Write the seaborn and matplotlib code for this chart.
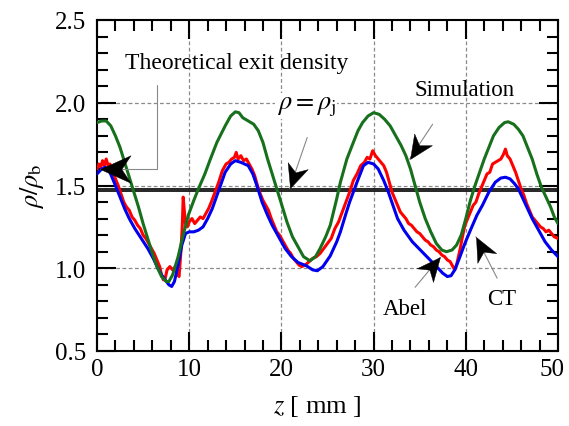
import numpy as np
import pandas as pd
import matplotlib
matplotlib.use("Agg")
import matplotlib.pyplot as plt
from matplotlib.ticker import MultipleLocator
from matplotlib.path import Path
from matplotlib.markers import MarkerStyle
from matplotlib.transforms import Affine2D, ScaledTranslation
import seaborn as sns

# ---------------- data ----------------
sim_z = [0.0, 0.5, 1.0, 1.5, 2.0, 2.5, 3.0, 3.5, 4.0, 4.5, 5.0, 5.5, 6.0, 6.5, 7.0, 7.5,
         7.8, 8.2, 8.8, 9.3, 9.9, 10.5, 11.0, 11.7, 12.3, 13.0, 13.9, 14.5, 15.0, 15.4,
         15.8, 16.4, 17.0, 17.5, 18.0, 18.5, 19.0, 19.5, 20.0, 20.6, 21.2, 21.8, 22.4,
         23.1, 23.7, 24.2, 24.8, 25.3, 26.0, 26.4, 27.1, 27.8, 28.3, 28.8, 29.4, 30.0,
         30.6, 31.2, 31.8, 32.4, 33.0, 33.5, 34.0, 34.5, 35.0, 35.6, 36.2, 36.8, 37.4,
         37.9, 38.5, 39.0, 39.5, 40.0, 40.5, 41.0, 41.5, 42.0, 42.5, 43.0, 43.6, 44.2,
         44.6, 45.2, 45.7, 46.2, 46.7, 47.2, 47.7, 48.2, 48.7, 49.2, 49.6, 50.0]
sim_rho = [1.88, 1.89, 1.89, 1.86, 1.80, 1.73, 1.64, 1.55, 1.46, 1.37, 1.27, 1.18, 1.09,
           1.01, 0.95, 0.92, 0.92, 0.96, 1.07, 1.19, 1.32, 1.41, 1.48, 1.57, 1.66, 1.76,
           1.86, 1.92, 1.945, 1.94, 1.91, 1.89, 1.87, 1.83, 1.76, 1.66, 1.57, 1.48, 1.39,
           1.28, 1.19, 1.13, 1.07, 1.045, 1.07, 1.12, 1.19, 1.26, 1.42, 1.52, 1.66, 1.76,
           1.83, 1.88, 1.92, 1.94, 1.93, 1.90, 1.86, 1.80, 1.74, 1.68, 1.60, 1.50, 1.40,
           1.30, 1.22, 1.15, 1.11, 1.10, 1.11, 1.14, 1.20, 1.30, 1.41, 1.50, 1.58, 1.66,
           1.73, 1.80, 1.85, 1.88, 1.885, 1.87, 1.84, 1.80, 1.73, 1.66, 1.57, 1.49, 1.43,
           1.37, 1.31, 1.27]

ct_z = [0.0, 0.5, 0.9, 1.4, 2.0, 2.5, 3.0, 3.5, 4.1, 4.8, 5.5, 6.1, 6.6, 7.0, 7.4, 7.8,
        8.1, 8.4, 8.8, 9.2, 9.6, 10.0, 10.5, 11.0, 11.5, 12.0, 12.5, 13.2, 13.9, 14.5,
        15.0, 15.6, 16.4, 16.9, 17.4, 17.9, 18.5, 19.0, 19.7, 20.4, 21.1, 21.8, 22.7,
        23.4, 23.9, 24.5, 25.3, 26.0, 26.4, 27.0, 27.4, 28.2, 28.9, 29.4, 30.0, 30.5,
        31.1, 31.6, 32.1, 32.6, 33.3, 34.2, 34.9, 35.6, 36.3, 37.0, 37.5, 38.0, 38.4,
        38.8, 39.3, 39.9, 40.5, 41.2, 41.8, 42.5, 43.2, 43.8, 44.3, 44.8, 45.3, 45.7,
        46.2, 46.7, 47.2, 47.9, 48.6, 49.3, 50.0]
ct_rho = [1.57, 1.60, 1.61, 1.58, 1.50, 1.43, 1.36, 1.30, 1.24, 1.18, 1.12, 1.06, 1.00,
          0.96, 0.93, 0.90, 0.89, 0.92, 1.02, 1.14, 1.21, 1.22, 1.22, 1.23, 1.25, 1.30,
          1.36, 1.47, 1.58, 1.63, 1.65, 1.64, 1.62, 1.57, 1.49, 1.40, 1.32, 1.26, 1.19,
          1.12, 1.07, 1.035, 1.015, 0.99, 0.985, 1.01, 1.075, 1.16, 1.22, 1.33, 1.40,
          1.52, 1.62, 1.64, 1.63, 1.60, 1.53, 1.46, 1.38, 1.30, 1.23, 1.16, 1.12, 1.08,
          1.04, 1.00, 0.97, 0.95, 0.955, 0.99, 1.06, 1.15, 1.23, 1.32, 1.38, 1.46, 1.52,
          1.545, 1.55, 1.54, 1.51, 1.48, 1.42, 1.36, 1.30, 1.23, 1.16, 1.11, 1.07]

abel_z = [0.0, 0.2, 0.4, 0.6, 0.8, 1.0, 1.2, 1.4, 1.7, 2.0, 2.3, 2.6, 2.9, 3.2, 3.5,
          3.8, 4.1, 4.4, 4.7, 5.0, 5.3, 5.6, 5.9, 6.2, 6.5, 6.8, 7.0, 7.2, 7.4, 7.6,
          7.9, 8.2, 8.5, 8.7, 8.9, 9.1, 9.25, 9.35, 9.45, 9.6, 9.8, 10.0, 10.3, 10.6,
          10.9, 11.2, 11.5, 11.8, 12.1, 12.4, 12.8, 13.2, 13.6, 14.0, 14.3, 14.6, 14.9,
          15.1, 15.3, 15.6, 15.9, 16.2, 16.5, 16.8, 17.1, 17.4, 17.7, 18.0, 18.3, 18.6,
          18.9, 19.2, 19.5, 19.8, 20.1, 20.4, 20.7, 21.0, 21.3, 21.6, 21.9, 22.2, 22.6,
          23.0, 23.4, 23.8, 24.2, 24.6, 25.0, 25.4, 25.8, 26.2, 26.6, 27.0, 27.4, 27.8,
          28.2, 28.6, 29.0, 29.3, 29.6, 29.9, 30.2, 30.5, 30.8, 31.1, 31.4, 31.7, 32.0,
          32.3, 32.6, 32.9, 33.2, 33.5, 33.8, 34.1, 34.4, 34.7, 35.0, 35.3, 35.6, 35.9,
          36.2, 36.5, 36.8, 37.1, 37.4, 37.7, 38.0, 38.3, 38.6, 38.8, 39.0, 39.2, 39.4,
          39.6, 39.9, 40.2, 40.5, 40.8, 41.1, 41.4, 41.7, 42.0, 42.3, 42.6, 42.9, 43.2,
          43.5, 43.8, 44.1, 44.3, 44.5, 44.8, 45.1, 45.4, 45.7, 46.0, 46.3, 46.6, 46.9,
          47.2, 47.5, 47.8, 48.1, 48.4, 48.7, 49.0, 49.3, 49.6, 50.0]
abel_rho = [1.60, 1.63, 1.61, 1.65, 1.62, 1.66, 1.62, 1.63, 1.58, 1.54, 1.50, 1.45, 1.40,
            1.37, 1.35, 1.31, 1.29, 1.26, 1.24, 1.20, 1.18, 1.15, 1.12, 1.09, 1.05, 1.01,
            0.96, 0.93, 0.94, 0.99, 1.01, 0.99, 1.01, 0.97, 0.95, 1.10, 1.26, 1.43, 1.36,
            1.27, 1.25, 1.28, 1.30, 1.27, 1.29, 1.31, 1.30, 1.33, 1.36, 1.40, 1.46, 1.52,
            1.59, 1.63, 1.64, 1.66, 1.67, 1.70, 1.66, 1.68, 1.65, 1.66, 1.63, 1.60, 1.56,
            1.50, 1.45, 1.41, 1.38, 1.35, 1.30, 1.26, 1.22, 1.20, 1.17, 1.14, 1.11, 1.09,
            1.06, 1.04, 1.02, 1.01, 1.02, 1.04, 1.06, 1.07, 1.09, 1.12, 1.15, 1.18, 1.24,
            1.28, 1.34, 1.40, 1.46, 1.53, 1.57, 1.62, 1.64, 1.67, 1.66, 1.71, 1.68, 1.66,
            1.64, 1.62, 1.58, 1.52, 1.46, 1.42, 1.38, 1.34, 1.32, 1.30, 1.27, 1.26, 1.24,
            1.22, 1.21, 1.19, 1.17, 1.16, 1.14, 1.13, 1.11, 1.10, 1.08, 1.07, 1.05, 1.04,
            1.01, 0.99, 1.02, 1.07, 1.12, 1.18, 1.26, 1.30, 1.34, 1.38, 1.40, 1.45, 1.49,
            1.53, 1.57, 1.58, 1.63, 1.64, 1.65, 1.66, 1.69, 1.72, 1.68, 1.66, 1.62, 1.58,
            1.53, 1.48, 1.44, 1.39, 1.35, 1.31, 1.29, 1.27, 1.25, 1.24, 1.22, 1.23, 1.21,
            1.19, 1.18]

series_names = ["Abel", "CT", "Simulation"]
exit_density = 1.479
rho_j = 1.465

x_ticks = [0, 10, 20, 30, 40, 50]
y_ticks = [0.5, 1.0, 1.5, 2.0, 2.5]

# ---------------- style ----------------
sns.set_style("ticks")
plt.rcParams["font.family"] = ["Liberation Serif", "DejaVu Serif"]
plt.rcParams["mathtext.fontset"] = "stix"
plt.rcParams["text.color"] = "black"
plt.rcParams["axes.labelcolor"] = "black"
plt.rcParams["xtick.color"] = "black"
plt.rcParams["ytick.color"] = "black"

fig = plt.figure(figsize=(5.69, 4.27), dpi=100)
ax = fig.add_axes([97 / 569, 1 - 352 / 427, 461 / 569, 331 / 427])

df = pd.concat([
    pd.DataFrame({"z": abel_z, "rho": abel_rho, "src": series_names[0]}),
    pd.DataFrame({"z": ct_z, "rho": ct_rho, "src": series_names[1]}),
    pd.DataFrame({"z": sim_z, "rho": sim_rho, "src": series_names[2]}),
])
palette = {"Abel": "#ff0000", "CT": "#0000ee", "Simulation": "#17701c"}

# grid
for gx in [10, 20, 30, 40]:
    ax.axvline(gx, color="#8a8a8a", lw=0.9, ls=(0, (3, 2)), zorder=0.5)
for gy in [1.0, 1.5, 2.0]:
    ax.axhline(gy, color="#8a8a8a", lw=0.9, ls=(0, (3, 2)), zorder=0.5)

ax.axhline(exit_density, color="black", lw=1.2, zorder=1)
ax.axhline(rho_j, color="black", lw=1.2, zorder=1)

sns.lineplot(data=df, x="z", y="rho", hue="src", palette=palette, lw=2.2,
             sort=False, estimator=None, legend=False, ax=ax, zorder=3)

ax.set_xlim(0, 50)
ax.set_ylim(0.5, 2.5)
ax.set_xticks(x_ticks)
ax.set_xticklabels([str(t) for t in x_ticks])
ax.set_yticks(y_ticks)
ax.set_yticklabels([f"{t:.1f}" for t in y_ticks])
ax.xaxis.set_minor_locator(MultipleLocator(2))
ax.yaxis.set_minor_locator(MultipleLocator(0.1))
ax.tick_params(which="both", direction="in", top=True, right=True, width=1.5,
               labelsize=18, color="black", labelcolor="black")
ax.tick_params(which="major", length=14)
ax.tick_params(which="minor", length=8)
ax.tick_params(axis="y", pad=8)
ax.tick_params(axis="x", pad=5)
for s in ax.spines.values():
    s.set_linewidth(1.5)
    s.set_color("black")
# keep the last x tick label inside the canvas
last = ax.get_xticklabels()[-1]
last.set_transform(last.get_transform() + ScaledTranslation(-4 / 72, 0, fig.dpi_scale_trans))

ax.set_xlabel(r"$\mathit{z}$ [ mm ]", fontsize=19)
ax.xaxis.set_label_coords(0.479, -0.128)
ax.set_ylabel(r"$\rho/\rho_{\mathrm{b}}$", fontsize=19, labelpad=6)

# ---------------- annotations ----------------
HEAD = Path([(0, 0), (-1, 0.45), (-0.7, 0), (-1, -0.45), (0, 0)],
            [Path.MOVETO, Path.LINETO, Path.LINETO, Path.LINETO, Path.CLOSEPOLY])


def arrow(tail, tip, length_pt=17):
    ax.plot([tail[0], tip[0]], [tail[1], tip[1]], color="#888888", lw=0.8, zorder=5)
    p1 = ax.transData.transform(tail)
    p2 = ax.transData.transform(tip)
    ang = np.degrees(np.arctan2(p2[1] - p1[1], p2[0] - p1[0]))
    m = MarkerStyle(HEAD, transform=Affine2D().rotate_deg(ang))
    ax.plot([tip[0]], [tip[1]], marker=m, ms=2 * length_pt, color="black",
            mec="black", mew=0.3, ls="none", zorder=6)


ax.text(15.1, 2.245, "Theoretical exit density", fontsize=17, ha="center", va="center")
ax.plot([6.5, 6.5, 3.0], [2.107, 1.60, 1.60], color="#888888", lw=0.8, zorder=5)
arrow((3.0, 1.60), (0.3, 1.60), length_pt=22)

ax.text(22.7, 1.98, r"$\rho = \rho_{\mathrm{j}}$", fontsize=19, ha="center", va="center",
        bbox=dict(fc="white", ec="none", pad=1), zorder=4)
arrow((22.8, 1.79), (20.9, 1.482))

ax.text(39.9, 2.08, "Simulation", fontsize=16.5, ha="center", va="center")
arrow((36.4, 1.87), (33.9, 1.66))

ax.text(33.4, 0.755, "Abel", fontsize=16.5, ha="center", va="center")
arrow((34.5, 0.885), (37.2, 1.065))

ax.text(43.9, 0.815, "CT", fontsize=16.5, ha="center", va="center")
arrow((43.4, 0.94), (41.1, 1.19))

fig.savefig("out.png", dpi=100)
